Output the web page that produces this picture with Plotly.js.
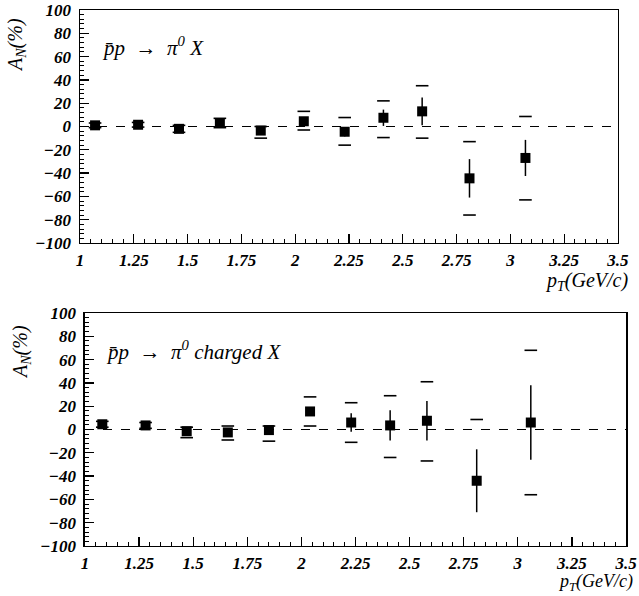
<!DOCTYPE html>
<html>
<head>
<meta charset="utf-8">
<script src="https://cdn.plot.ly/plotly-3.0.1.min.js"></script>
<style>html,body{margin:0;padding:0;background:#fff;}#chart{width:639px;height:596px;}</style>
</head>
<body>
<div id="chart"></div>
<script>
// ---- data ----
const ptTop = [1.07, 1.27, 1.46, 1.65, 1.84, 2.04, 2.23, 2.41, 2.59, 2.81, 3.07];
const anTop = [1, 1.5, -2, 3, -3.5, 4.5, -4.5, 7.5, 13, -44.5, -27];
const statTop = [1, 1, 1.5, 2, 3, 3, 4, 7, 12, 16.5, 15.5];
const sysHiTop = [3, 3.5, 1, 7, 0, 13, 7.7, 22, 35, -13, 8.6];
const sysLoTop = [-1, -0.5, -5, -1, -10, -3, -16, -9.5, -10, -76, -63];

const ptBot = [1.08, 1.28, 1.47, 1.66, 1.85, 2.04, 2.23, 2.41, 2.58, 2.81, 3.06];
const anBot = [4.5, 3.5, -1.5, -2.5, -0.5, 15.5, 6, 3.5, 7.5, -44, 6];
const statBot = [2, 2, 3, 3, 3, 3, 8, 13, 17, 27, 32];
const sysHiBot = [7, 6, 2, 3, 3, 28, 23, 29, 41, 8.6, 68];
const sysLoBot = [2, 1, -7, -9, -10, 3, -11, -24, -27, null, -56];

const xTickVals = [1, 1.25, 1.5, 1.75, 2, 2.25, 2.5, 2.75, 3, 3.25, 3.5];
const yTickVals = [-100, -80, -60, -40, -20, 0, 20, 40, 60, 80, 100];

// ---- styling ----
const SERIF = 'Liberation Serif';
const tickFont = {family: SERIF, size: 17, color: '#000', weight: 700, style: 'italic'};
const labFont = {family: SERIF, size: 21, color: '#000', style: 'italic'};
const axFont = {family: SERIF, size: 20, color: '#000', style: 'italic'};

function pointTrace(x, y, err, xa, ya) {
  return {
    x: x, y: y, xaxis: xa, yaxis: ya, type: 'scatter', mode: 'markers',
    marker: {symbol: 'square', size: 10, color: '#000'},
    error_y: {type: 'data', array: err, visible: true, color: '#000', thickness: 1.5, width: 0},
    showlegend: false, hoverinfo: 'skip'
  };
}
function dashTrace(x, hi, lo, xa, ya) {
  const xs = [], ys = [];
  for (let i = 0; i < x.length; i++) {
    if (hi[i] !== null) { xs.push(x[i]); ys.push(hi[i]); }
    if (lo[i] !== null) { xs.push(x[i]); ys.push(lo[i]); }
  }
  return {
    x: xs, y: ys, xaxis: xa, yaxis: ya, type: 'scatter', mode: 'markers',
    marker: {symbol: 'line-ew', size: 9, line: {color: '#000', width: 1.6}},
    showlegend: false, hoverinfo: 'skip'
  };
}

const data = [
  pointTrace(ptTop, anTop, statTop, 'x', 'y'),
  dashTrace(ptTop, sysHiTop, sysLoTop, 'x', 'y'),
  pointTrace(ptBot, anBot, statBot, 'x2', 'y2'),
  dashTrace(ptBot, sysHiBot, sysLoBot, 'x2', 'y2')
];

function xAxis(domain, anchor) {
  return {
    domain: domain, anchor: anchor, range: [1, 3.5],
    tickvals: xTickVals, ticks: 'inside', ticklen: 9, tickwidth: 1.2, tickcolor: '#000',
    minor: {dtick: 0.05, tick0: 1, ticks: 'inside', ticklen: 4, tickwidth: 1, tickcolor: '#000'},
    showline: true, linecolor: '#000', linewidth: 1.5, mirror: true,
    showgrid: false, zeroline: false, tickfont: tickFont, ticklabelstandoff: 1
  };
}
function yAxis(domain, anchor) {
  return {
    domain: domain, anchor: anchor, range: [-100, 100],
    tickvals: yTickVals, ticks: 'inside', ticklen: 9, tickwidth: 1.2, tickcolor: '#000',
    minor: {dtick: 4, tick0: -100, ticks: 'inside', ticklen: 4, tickwidth: 1, tickcolor: '#000'},
    showline: true, linecolor: '#000', linewidth: 1.5, mirror: true,
    showgrid: false, zeroline: false, tickfont: tickFont, ticklabelstandoff: 4
  };
}

const layout = {
  width: 639, height: 596,
  margin: {l: 0, r: 0, t: 0, b: 0},
  paper_bgcolor: '#fff', plot_bgcolor: '#fff',
  showlegend: false,
  xaxis: xAxis([0.1252, 0.9671], 'y'),
  yaxis: yAxis([0.5923, 0.9832], 'x'),
  xaxis2: xAxis([0.1330, 0.9797], 'y2'),
  yaxis2: yAxis([0.0839, 0.4748], 'x2'),
  shapes: [
    {type: 'line', xref: 'x', yref: 'y', x0: 1, x1: 3.5, y0: 0, y1: 0, line: {color: '#000', width: 1.2, dash: 'dash'}},
    {type: 'line', xref: 'x2', yref: 'y2', x0: 1, x1: 3.5, y0: 0, y1: 0, line: {color: '#000', width: 1.2, dash: 'dash'}}
  ],
  annotations: [
    {text: 'p̄p  →  π<sup>0</sup> X', xref: 'paper', yref: 'paper', x: 100/639, y: 1 - 47/596, xanchor: 'left', yanchor: 'middle', showarrow: false, font: labFont},
    {text: 'p̄p  →  π<sup>0</sup> charged X', xref: 'paper', yref: 'paper', x: 104/639, y: 1 - 350/596, xanchor: 'left', yanchor: 'middle', showarrow: false, font: labFont},
    {text: 'A<sub>N</sub>(%)', xref: 'paper', yref: 'paper', x: 16/639, y: 1 - 45/596, xanchor: 'center', yanchor: 'middle', textangle: -90, showarrow: false, font: axFont},
    {text: 'A<sub>N</sub>(%)', xref: 'paper', yref: 'paper', x: 21/639, y: 1 - 352/596, xanchor: 'center', yanchor: 'middle', textangle: -90, showarrow: false, font: axFont},
    {text: 'p<sub>T</sub>(GeV/c)', xref: 'paper', yref: 'paper', x: 630/639, y: 1 - 281/596, xanchor: 'right', yanchor: 'middle', showarrow: false, font: axFont},
    {text: 'p<sub>T</sub>(GeV/c)', xref: 'paper', yref: 'paper', x: 634/639, y: 0.002, xanchor: 'right', yanchor: 'bottom', borderpad: 0, showarrow: false, font: {family: SERIF, size: 18, color: '#000', style: 'italic'}}
  ]
};

Plotly.newPlot('chart', data, layout, {staticPlot: true, displayModeBar: false});
</script>
</body>
</html>
